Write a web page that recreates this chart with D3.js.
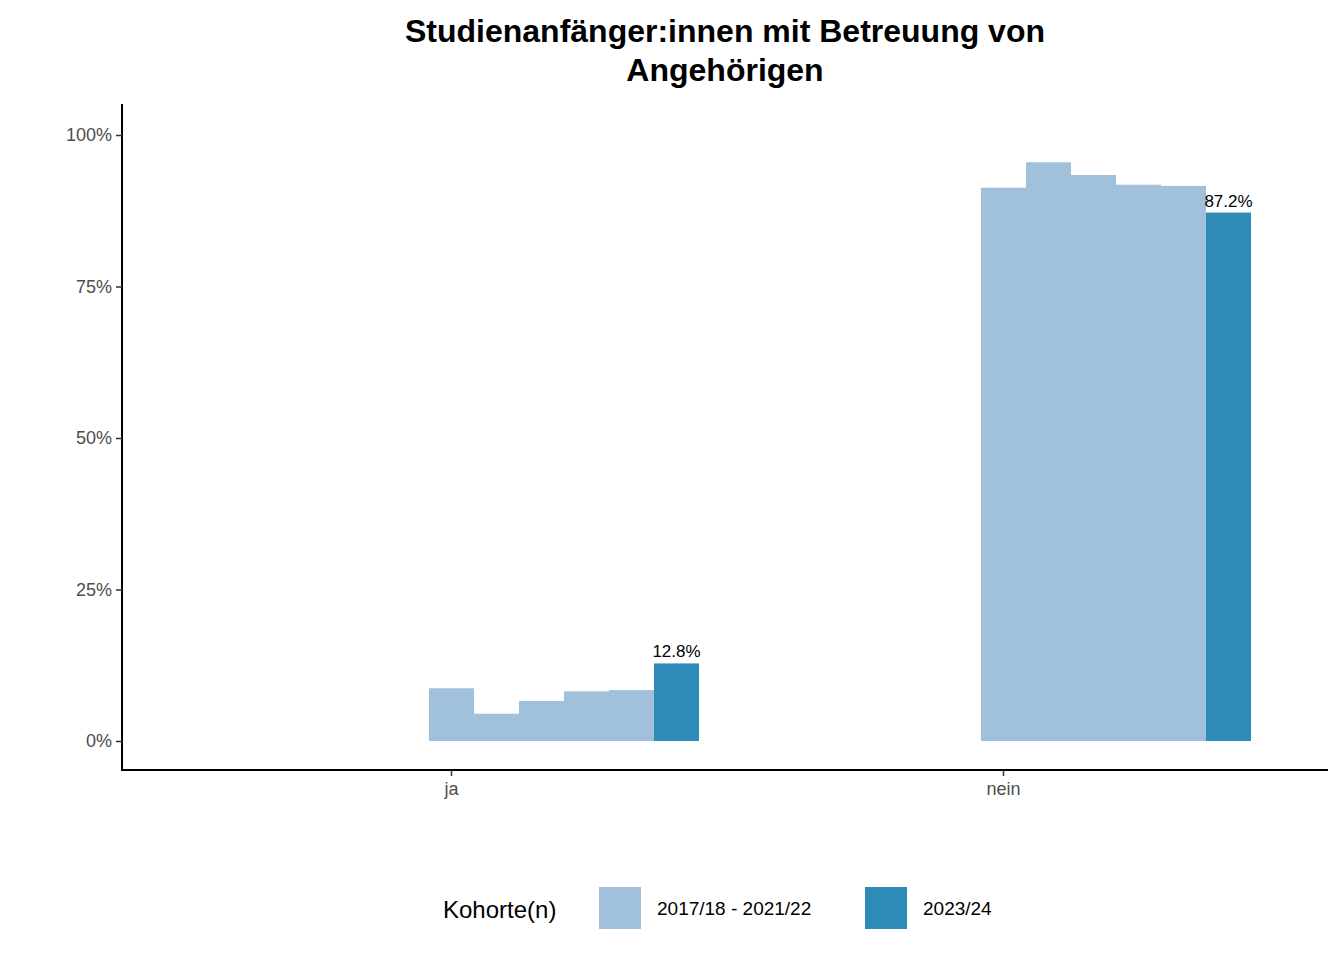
<!DOCTYPE html>
<html><head><meta charset="utf-8">
<script src="https://cdn.jsdelivr.net/npm/d3@7"></script>
<style>body{margin:0;background:#fff}</style>
</head><body><svg width="1344" height="960"></svg>
<script>
const categories = ["ja", "nein"];
const cohorts = ["2017/18", "2018/19", "2019/20", "2020/21", "2021/22", "2023/24"];
const valuesJa = [8.7, 4.5, 6.6, 8.2, 8.4, 12.8];
const valuesNein = [91.3, 95.5, 93.4, 91.8, 91.6, 87.2];
const yTicks = [0, 25, 50, 75, 100];
const legendLabels = ["2017/18 - 2021/22", "2023/24"];

const svg = d3.select("svg").style("font-family", "Liberation Sans, Arial, sans-serif");
const x = d3.scalePoint().domain(categories).range([451, 1003]);
const y = d3.scaleLinear().domain([0, 100]).range([741, 135]);
const bw = 45;
const light = "#a0c0dc", dark = "#2e8bb7";

const rows = [];
categories.forEach((c, ci) => {
  const vals = ci === 0 ? valuesJa : valuesNein;
  vals.forEach((v, i) => rows.push({c, i, v, last: i === vals.length - 1}));
});

svg.append("g").selectAll("rect").data(rows).join("rect")
  .attr("x", d => x(d.c) - 22 + d.i * bw)
  .attr("y", d => y(d.v))
  .attr("width", bw)
  .attr("height", d => y(0) - y(d.v))
  .attr("fill", d => d.last ? dark : light);

svg.append("g").selectAll("text").data(rows.filter(d => d.last)).join("text")
  .attr("x", d => x(d.c) - 22 + d.i * bw + bw / 2)
  .attr("y", d => y(d.v) - 6)
  .attr("text-anchor", "middle").attr("font-size", 17)
  .text(d => d.v.toFixed(1) + "%");

// axes
const ya = svg.append("g").attr("transform", "translate(122,0)")
  .call(d3.axisLeft(y).tickValues(yTicks).tickFormat(d => d + "%").tickSize(6).tickSizeOuter(0));
ya.select(".domain").attr("d", "M0,104V771").attr("stroke-width", 2);
const xa = svg.append("g").attr("transform", "translate(0,770)")
  .call(d3.axisBottom(x).tickSize(6).tickSizeOuter(0));
xa.select(".domain").attr("d", "M121,0H1328").attr("stroke-width", 2);
[ya, xa].forEach(a => {
  a.selectAll(".tick line").attr("stroke", "#333").attr("stroke-width", 1.5);
  a.selectAll(".tick text").attr("fill", "#4d4d4d").attr("font-size", 18).attr("font-family", "Liberation Sans, Arial, sans-serif");
});
ya.selectAll(".tick text").attr("x", -10);
xa.selectAll(".tick text").attr("y", 12);

// title
const t = svg.append("text").attr("text-anchor", "middle").attr("font-size", 32).attr("font-weight", "bold");
t.append("tspan").attr("x", 725).attr("y", 42).text("Studienanfänger:innen mit Betreuung von");
t.append("tspan").attr("x", 725).attr("y", 81).text("Angehörigen");

// legend
svg.append("text").attr("x", 443).attr("y", 918).attr("font-size", 24).text("Kohorte(n)");
const lg = svg.append("g").selectAll("g").data(legendLabels).join("g")
  .attr("transform", (d, i) => `translate(${[599, 865][i]},887)`);
lg.append("rect").attr("width", 42).attr("height", 42).attr("fill", (d, i) => i ? dark : light);
lg.append("text").attr("x", 58).attr("y", 28).attr("font-size", 19).text(d => d);
</script></body></html>
